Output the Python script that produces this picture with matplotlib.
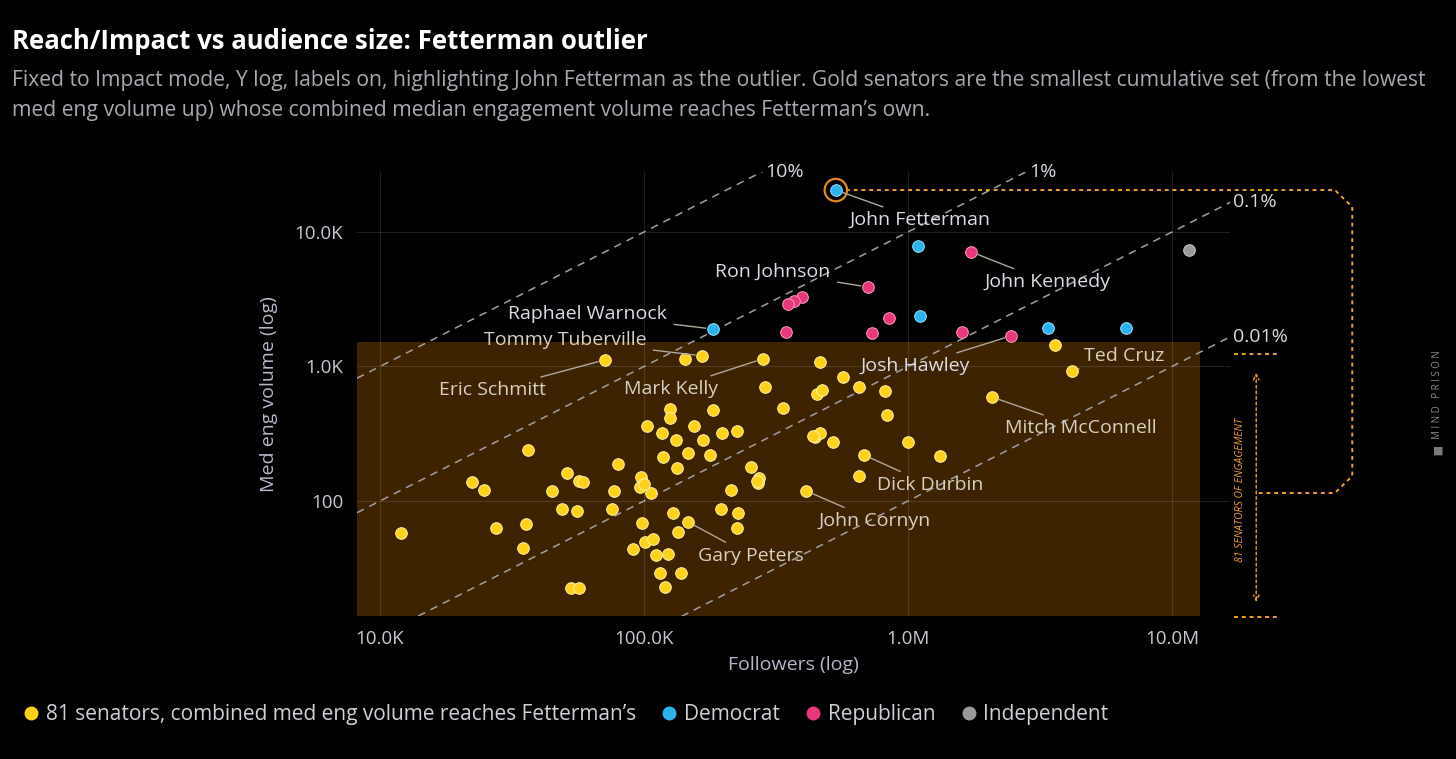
import numpy as np
import matplotlib
matplotlib.use("Agg")
import matplotlib.pyplot as plt
from matplotlib.lines import Line2D

plt.rcParams["font.family"] = ["Open Sans", "DejaVu Sans"]

# ── Data ──────────────────────────────────────────────────────────────────────
gold_followers = [
    71.1e3, 143e3, 166e3, 282e3, 464e3, 567e3, 287e3, 452e3, 472e3, 336e3,
    126e3, 182e3, 125e3, 103e3, 155e3, 117e3, 197e3, 225e3, 132e3, 167e3,
    444e3, 464e3, 520e3, 36.4e3, 147e3, 118e3, 178e3, 133e3, 79.7e3, 254e3,
    51.1e3, 97.5e3, 273e3, 22.3e3, 56.7e3, 58.7e3, 96.6e3, 270e3, 24.8e3, 44.8e3,
    76.9e3, 106e3, 214e3, 411e3, 48.9e3, 55.7e3, 75.7e3, 196e3, 129e3, 227e3,
    12.0e3, 27.5e3, 35.7e3, 98.2e3, 147e3, 135e3, 225e3, 34.8e3, 90.8e3, 101e3,
    108e3, 111e3, 123e3, 115e3, 138e3, 120e3, 52.9e3, 56.7e3, 3.60e6, 4.18e6,
    652e3, 818e3, 832e3, 2.08e6, 1.0e6, 681e3, 1.32e6, 652e3, 437e3, 267e3,
    100e3,
]
gold_eng = [
    1120, 1140, 1200, 1140, 1080, 835, 704, 625, 668, 491,
    483, 475, 414, 361, 361, 320, 320, 331, 284, 284,
    299, 320, 275, 240, 228, 212, 220, 176, 188, 179,
    161, 151, 148, 138, 141, 138, 127, 136, 121, 119,
    119, 115, 121, 119, 87.3, 84.3, 87.3, 87.3, 81.4, 81.4,
    57.8, 63, 67.5, 68.6, 69.8, 58.8, 63, 44.7, 44.0, 49.5,
    52.1, 39.7, 40.4, 29.2, 29.2, 23.0, 22.6, 22.6, 1450, 926,
    704, 658, 436, 593, 275, 220, 216, 153, 305, 141,
    134,
]
dem_followers = [533e3, 1.09e6, 1.11e6, 3.39e6, 6.70e6, 182e3]
dem_eng = [20.5e3, 7.87e3, 2.37e3, 1.93e3, 1.93e3, 1.90e3]
rep_followers = [1.74e6, 705e3, 396e3, 370e3, 351e3, 847e3, 731e3, 1.60e6, 2.46e6, 345e3]
rep_eng = [7.10e3, 3.90e3, 3.29e3, 3.07e3, 2.92e3, 2.30e3, 1.78e3, 1.81e3, 1.69e3, 1.81e3]
ind_followers = [11.6e6]
ind_eng = [7.40e3]

fetterman = (533e3, 20.5e3)

# name, followers, eng, label offset (pixels)
labels = [
    ("John Fetterman", 533e3, 20.5e3, (84, -30)),
    ("Ron Johnson", 705e3, 3.90e3, (-95, 15)),
    ("John Kennedy", 1.74e6, 7.10e3, (76, -30)),
    ("Raphael Warnock", 182e3, 1.90e3, (-125, 15)),
    ("Tommy Tuberville", 166e3, 1200, (-137, 16)),
    ("Eric Schmitt", 71.1e3, 1120, (-112, -30)),
    ("Mark Kelly", 282e3, 1140, (-92, -30)),
    ("Josh Hawley", 2.46e6, 1.69e3, (-96, -30)),
    ("Ted Cruz", 4.18e6, 926, (52, 15)),
    ("Mitch McConnell", 2.08e6, 593, (89, -31)),
    ("Dick Durbin", 681e3, 220, (66, -30)),
    ("John Cornyn", 411e3, 119, (69, -30)),
    ("Gary Peters", 147e3, 69.8, (63, -34)),
]

ratio_lines = [(0.10, "10%"), (0.01, "1%"), (0.001, "0.1%"), (0.0001, "0.01%")]
x_ticks = [1e4, 1e5, 1e6, 1e7]
x_tick_labels = ["10.0K", "100.0K", "1.0M", "10.0M"]
y_ticks = [100, 1e3, 1e4]
y_tick_labels = ["100", "1.0K", "10.0K"]

XLIM = (10 ** 3.913, 10 ** 7.22)
YLIM = (10 ** 1.145, 10 ** 4.446)
SHADE_TOP = 1520
SHADE_RIGHT = 12.8e6

GOLD, BLUE, PINK, GREY = "#ffd21a", "#2ab4ee", "#e8377a", "#9a9a9a"
ORANGE = "#f0a030"
BG = "#000000"

# ── Figure ────────────────────────────────────────────────────────────────────
fig = plt.figure(figsize=(14.56, 7.59), dpi=100, facecolor=BG)
ax = fig.add_axes([0.2452, 0.1884, 0.5996, 0.585], facecolor=BG)
ax.set_xscale("log")
ax.set_yscale("log")
ax.set_xlim(*XLIM)
ax.set_ylim(*YLIM)
ax.set_axisbelow(True)

ax.fill_between([XLIM[0], SHADE_RIGHT], YLIM[0], SHADE_TOP, color="#3d2300", zorder=0.3, lw=0)

ax.set_xticks(x_ticks, x_tick_labels)
ax.set_yticks(y_ticks, y_tick_labels)
ax.minorticks_off()
ax.tick_params(colors="#c8c8d2", labelsize=13.5, length=0, pad=10)
ax.grid(True, color="#ffffff", alpha=0.12, lw=0.8)
for s in ax.spines.values():
    s.set_visible(False)
ax.set_xlabel("Followers (log)", color="#b8b8c8", fontsize=14, labelpad=6)
ax.set_ylabel("Med eng volume (log)", color="#b8b8c8", fontsize=14, labelpad=12)

# ratio guide lines
xs = np.array(XLIM)
for pct, txt in ratio_lines:
    ax.plot(xs, pct * xs, color="#a0a0a0", lw=1.1, dashes=(5, 4), zorder=1)
    # where the line leaves the axes
    xe = min(XLIM[1], YLIM[1] / pct)
    ax.annotate(txt, (xe, pct * xe), xytext=(3, 0), textcoords="offset pixels",
                ha="left", va="center", color="#d8d8e0", fontsize=14, annotation_clip=False)

kw = dict(s=70, zorder=3, linewidths=0.7)
ax.scatter(gold_followers, gold_eng, color=GOLD, edgecolors="#fff2a8", **kw)
ax.scatter(rep_followers, rep_eng, color=PINK, edgecolors="#ff9cc0", **kw)
ax.scatter(dem_followers, dem_eng, color=BLUE, edgecolors="#9fe0ff", **kw)
ax.scatter(ind_followers, ind_eng, color=GREY, edgecolors="#cccccc", **kw)
ax.scatter([fetterman[0]], [fetterman[1]], s=260, facecolors="none",
           edgecolors="#e08a1e", linewidths=1.6, zorder=4)

for name, fx, fy, off in labels:
    col = "#d8d0c4" if fy < SHADE_TOP else "#dcdce8"
    ax.annotate(name, (fx, fy), xytext=off, textcoords="offset pixels",
                ha="center", va="center", color=col, fontsize=14, zorder=5,
                arrowprops=dict(arrowstyle="-", color="#b0a898", lw=1,
                                shrinkA=3, shrinkB=5))

# bracket from Fetterman to the right
fx_ax = 0.560
fy_ax = (np.log10(fetterman[1]) - np.log10(YLIM[0])) / (np.log10(YLIM[1]) - np.log10(YLIM[0]))
bot = 0.277
r = 0.02
bx = [fx_ax, 1.14 - r, 1.14, 1.14, 1.14 - r, 1.032]
by = [fy_ax, fy_ax, fy_ax - r * 1.9, bot + r * 1.9, bot, bot]
ax.plot(bx, by, transform=ax.transAxes, color=ORANGE, lw=1.4, ls=(0, (2, 2)), clip_on=False)
# vertical double arrow
for yy in (0.590, -0.002):
    ax.plot([1.005, 1.055], [yy, yy], transform=ax.transAxes, color=ORANGE, lw=1.4,
            ls=(0, (2, 2)), clip_on=False)
ax.annotate("", xy=(1.030, 0.025), xytext=(1.030, 0.554), xycoords="axes fraction",
            arrowprops=dict(arrowstyle="<->", color=ORANGE, lw=1.0, ls=(0, (2, 2))))
ax.text(1.012, 0.284, "81 SENATORS OF ENGAGEMENT", transform=ax.transAxes, rotation=90,
        ha="center", va="center", color=ORANGE, fontsize=7.5, style="italic")

# watermark
fig.text(0.9875, 0.48, "M I N D   P R I S O N", rotation=90, ha="center", va="center",
         color="#8a8a8a", fontsize=7)
fig.text(0.9875, 0.405, "\u25A0", ha="center", va="center", color="#7a7a7a", fontsize=8)

# titles
fig.text(0.008, 0.945, "Reach/Impact vs audience size: Fetterman outlier", color="white",
         fontsize=18.5, fontweight="bold", va="center")
fig.text(0.008, 0.894,
         "Fixed to Impact mode, Y log, labels on, highlighting John Fetterman as the outlier. "
         "Gold senators are the smallest cumulative set (from the lowest",
         color="#a8a8b0", fontsize=15.2, va="center")
fig.text(0.008, 0.855,
         "med eng volume up) whose combined median engagement volume reaches Fetterman\u2019s own.",
         color="#a8a8b0", fontsize=15.2, va="center")

# legend
handles = [Line2D([], [], marker="o", ls="", color=c, markersize=9)
           for c in (GOLD, BLUE, PINK, GREY)]
names = ["81 senators, combined med eng volume reaches Fetterman\u2019s", "Democrat",
         "Republican", "Independent"]
fig.legend(handles, names, loc="center left", bbox_to_anchor=(0.0, 0.058), ncol=4,
           frameon=False, fontsize=15, labelcolor="#d0d0d8", handletextpad=0.1,
           columnspacing=1.0, handlelength=1.2)

fig.savefig("out.png", dpi=100, facecolor=BG)
